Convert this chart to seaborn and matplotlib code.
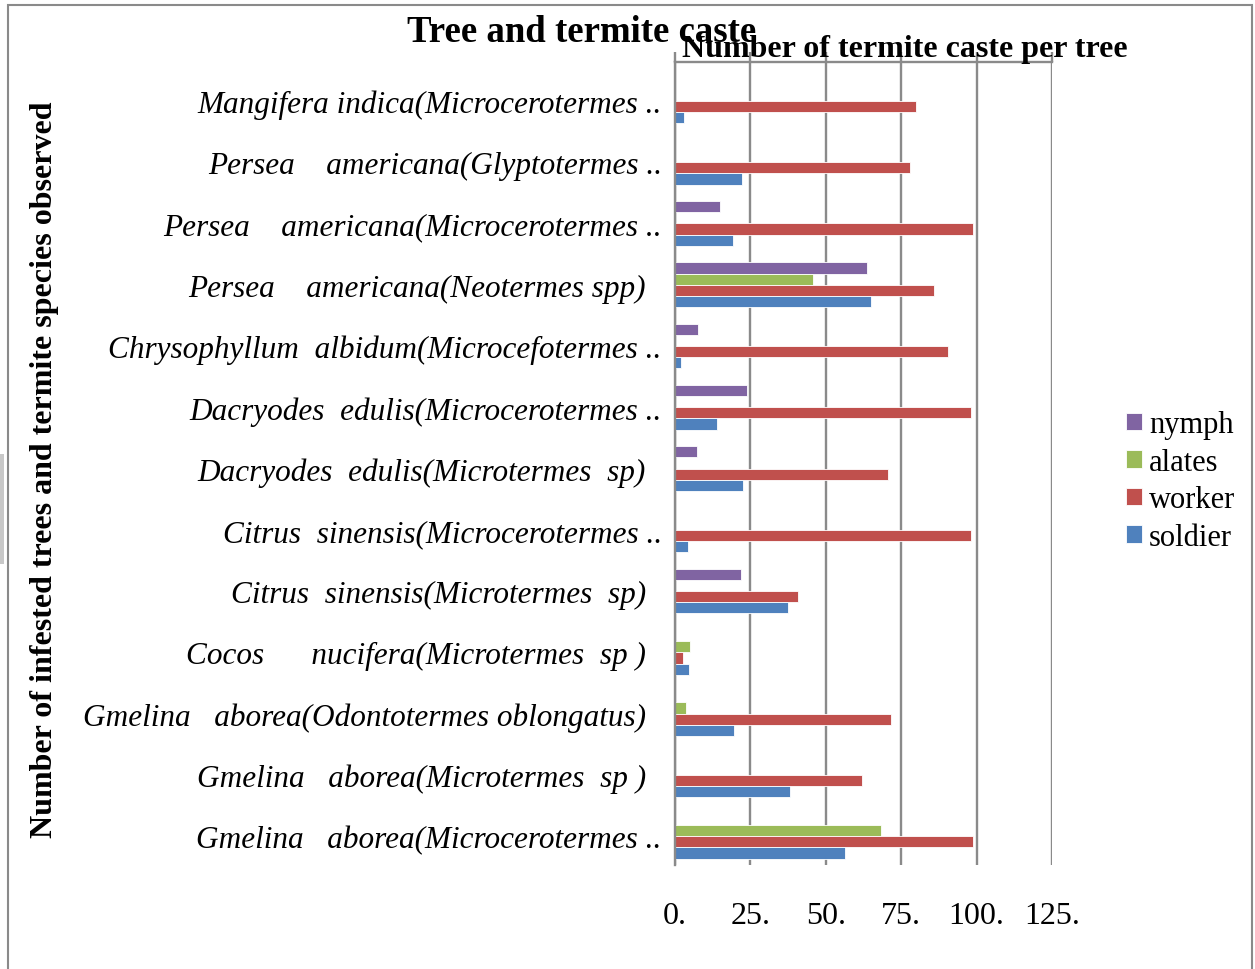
import matplotlib
matplotlib.use("Agg")
import matplotlib.pyplot as plt
from matplotlib.patches import Rectangle
import numpy as np
import pandas as pd
import seaborn as sns

# tree (termite species), top to bottom as in the chart
trees = [
    "Mangifera indica(Microcerotermes ..",
    "Persea    americana(Glyptotermes ..",
    "Persea    americana(Microcerotermes ..",
    "Persea    americana(Neotermes spp)  ",
    "Chrysophyllum  albidum(Microcefotermes ..",
    "Dacryodes  edulis(Microcerotermes ..",
    "Dacryodes  edulis(Microtermes  sp)  ",
    "Citrus  sinensis(Microcerotermes ..",
    "Citrus  sinensis(Microtermes  sp)  ",
    "Cocos      nucifera(Microtermes  sp )  ",
    "Gmelina   aborea(Odontotermes oblongatus)  ",
    "Gmelina   aborea(Microtermes  sp )  ",
    "Gmelina   aborea(Microcerotermes ..",
]
nan = np.nan
soldier = [3.1, 22.3, 19.1, 64.9, 2.0, 13.9, 22.4, 4.2, 37.4, 4.5, 19.6, 38.1, 56.5]
worker = [80.0, 78.0, 98.7, 85.8, 90.6, 98.0, 70.5, 98.0, 40.9, 2.8, 71.5, 61.9, 98.8]
alates = [nan, nan, nan, 45.9, nan, nan, nan, nan, nan, 5.0, 3.6, nan, 68.4]
nymph = [nan, nan, 15.0, 63.5, 7.6, 23.9, 7.3, nan, 21.9, nan, nan, nan, nan]

castes = ["nymph", "alates", "worker", "soldier"]
colors = ["#8064A2", "#9BBB59", "#C0504D", "#4F81BD"]
xticks = [0, 25, 50, 75, 100, 125]
xticklabels = ["0.", "25.", "50.", "75.", "100.", "125."]

rows = []
for caste, vals in zip(castes, [nymph, alates, worker, soldier]):
    for t, v in zip(trees, vals):
        rows.append({"tree": t, "caste": caste, "count": v})
df = pd.DataFrame(rows).dropna()

sns.set_style("white")
plt.rcParams["font.family"] = ["Liberation Serif", "DejaVu Serif"]
plt.rcParams["text.color"] = "black"
plt.rcParams["xtick.labelcolor"] = "black"
plt.rcParams["ytick.labelcolor"] = "black"
grid_c = "#8a8a8a"
fs = 23

fig = plt.figure(figsize=(12.55, 9.7), dpi=100)
ax = fig.add_axes([675 / 1255, 1 - 866 / 970, 377 / 1255, 803 / 970])

sns.barplot(data=df, y="tree", x="count", hue="caste", order=trees,
            hue_order=castes, palette=colors, saturation=1, orient="h", width=0.73,
            edgecolor="white", linewidth=0.6, errorbar=None, ax=ax)

ax.set_xlim(0, 125)
ax.set_ylim(12.47, -0.635)
ax.set_xticks(xticks)
ax.set_xticklabels(xticklabels, fontsize=fs)
ax.xaxis.grid(True, color=grid_c, lw=1.7)
ax.set_axisbelow(True)
ax.tick_params(axis="x", bottom=False, top=True, labeltop=False, direction="out",
               length=7, width=1.7, color=grid_c, pad=19)
ax.tick_params(axis="y", left=False, pad=6)
for lab in ax.get_yticklabels():
    lab.set_fontstyle("italic")
    lab.set_fontsize(22.5)
ax.set_xlabel("")
ax.set_ylabel("")
for s in ["right", "bottom"]:
    ax.spines[s].set_visible(False)
for s in ["left", "top"]:
    ax.spines[s].set_color(grid_c)
    ax.spines[s].set_linewidth(1.7)

sns.move_legend(ax, "center left", bbox_to_anchor=(1114 / 1255, 1 - 482 / 970),
                bbox_transform=fig.transFigure, frameon=False, title=None,
                fontsize=22, handlelength=0.5, handleheight=0.5,
                handletextpad=0.25, labelspacing=0.28, borderaxespad=0)

fig.text(582 / 1255, 1 - 33 / 970, "Tree and termite caste", fontsize=26.5,
         fontweight="bold", ha="center", va="center")
fig.text(905 / 1255, 1 - 50 / 970, "Number of termite caste per tree", fontsize=fs,
         fontweight="bold", ha="center", va="center")
fig.text(45 / 1255, 1 - 470 / 970, "Number of infested trees and termite species observed",
         fontsize=fs, fontweight="bold", rotation=90, ha="center", va="center")

# outer chart border and small grey mark at left edge
fig.add_artist(Rectangle((8 / 1255, -0.1), 1244 / 1255, (970 - 6) / 970 + 0.1,
                         transform=fig.transFigure, fill=False, edgecolor=grid_c, lw=1.5))
fig.add_artist(Rectangle((0, 1 - 565 / 970), 4 / 1255, 110 / 970,
                         transform=fig.transFigure, color="#c8c8c8", lw=0))

fig.savefig("out.png", dpi=100)
